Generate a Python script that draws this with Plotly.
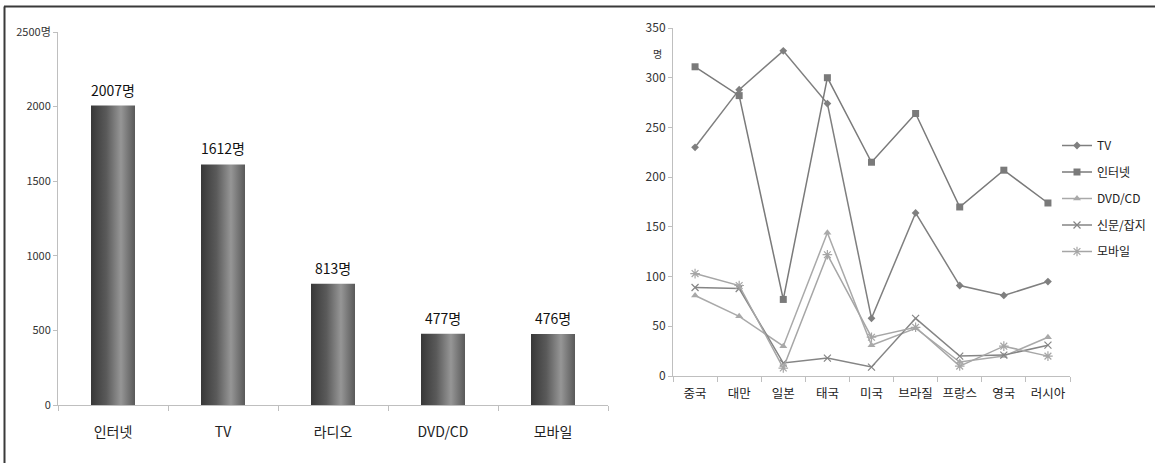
import plotly.graph_objects as go

# ---- data ----
media = ["인터넷", "TV", "라디오", "DVD/CD", "모바일"]
media_counts = [2007, 1612, 813, 477, 476]

countries = ["중국", "대만", "일본", "태국", "미국", "브라질", "프랑스", "영국", "러시아"]
tv = [230, 288, 327, 274, 58, 164, 91, 81, 95]
internet = [311, 282, 77, 300, 215, 264, 170, 207, 174]
dvd_cd = [81, 60, 30, 144, 31, 48, 14, 20, 39]
newspaper = [89, 88, 13, 18, 9, 58, 20, 21, 31]
mobile = [103, 91, 8, 122, 39, 49, 10, 30, 20]

left_yticks = [0, 500, 1000, 1500, 2000, 2500]
left_yticktext = ["0", "500", "1000", "1500", "2000", "2500명"]

W, H = 1155, 463
FONT = "Noto Sans CJK KR"
AXIS_GREY = "#bfbfbf"


def px_x(p):
    return p / W


def px_y(p):
    return 1 - p / H


fig = go.Figure()

# ---- left: bar chart with a cylinder-like horizontal gradient ----
bar_half = 0.2
for i, v in enumerate(media_counts):
    fig.add_trace(go.Scatter(
        x=[i - bar_half, i + bar_half, i + bar_half, i - bar_half, i - bar_half],
        y=[0, 0, v, v, 0],
        fill="toself",
        fillgradient=dict(
            type="horizontal",
            colorscale=[[0, "#383838"], [0.35, "#5a5a5a"], [0.68, "#969696"], [1, "#595959"]],
        ),
        line=dict(width=0),
        mode="lines",
        xaxis="x3", yaxis="y",
        showlegend=False,
        hoverinfo="skip",
    ))

# invisible anchor trace so the category axis knows its categories
fig.add_trace(go.Scatter(
    x=media, y=media_counts, mode="markers",
    marker=dict(opacity=0), xaxis="x", yaxis="y",
    showlegend=False, hoverinfo="skip",
))

# value labels above each bar
for name, v in zip(media, media_counts):
    fig.add_annotation(
        x=name, y=v, xref="x", yref="y",
        text=f"{v}명", showarrow=False,
        yanchor="bottom", yshift=4,
        font=dict(family=FONT, size=14, color="#111"),
    )

# ---- right: line chart by country ----
series = [
    ("TV", tv, "#7f7f7f", dict(symbol="diamond", size=6)),
    ("인터넷", internet, "#7a7a7a", dict(symbol="square", size=7)),
    ("DVD/CD", dvd_cd, "#a9a9a9", dict(symbol="triangle-up", size=7)),
    ("신문/잡지", newspaper, "#858585", dict(symbol="x-thin-open", size=7, line=dict(width=1.2, color="#858585"))),
    ("모바일", mobile, "#a6a6a6", dict(symbol="asterisk-open", size=8, line=dict(width=1.2, color="#a6a6a6"))),
]
for name, vals, color, mk in series:
    mk = dict(mk)
    mk.setdefault("color", color)
    fig.add_trace(go.Scatter(
        x=countries, y=vals,
        mode="lines+markers",
        name=name,
        legendgroup=name,
        line=dict(color=color, width=1.5),
        marker=mk,
        xaxis="x2", yaxis="y2",
    ))

tick_font = dict(family=FONT, size=11, color="#333")

fig.update_layout(
    width=W, height=H,
    margin=dict(l=0, r=0, t=0, b=0, autoexpand=False),
    paper_bgcolor="white",
    plot_bgcolor="white",
    font=dict(family=FONT, color="#222"),
    xaxis=dict(
        domain=[px_x(58), px_x(608)],
        type="category",
        categoryorder="array", categoryarray=media,
        range=[-0.5, len(media) - 0.5],
        tickson="boundaries",
        ticks="outside", ticklen=5, tickcolor=AXIS_GREY,
        showline=True, linecolor=AXIS_GREY, linewidth=1,
        showgrid=False, zeroline=False,
        tickfont=dict(family=FONT, size=14, color="#222"),
        ticklabelstandoff=14,
        tickangle=0,
        automargin=False,
        anchor="y",
    ),
    xaxis3=dict(
        domain=[px_x(58), px_x(608)],
        range=[-0.5, len(media) - 0.5],
        overlaying="x",
        visible=False,
        automargin=False,
        anchor="y",
    ),
    yaxis=dict(
        domain=[px_y(405), px_y(32)],
        range=[0, 2500],
        tickvals=left_yticks, ticktext=left_yticktext,
        ticks="outside", ticklen=4, tickcolor=AXIS_GREY,
        showline=True, linecolor=AXIS_GREY, linewidth=1,
        showgrid=False, zeroline=False,
        tickfont=tick_font,
        automargin=False,
        anchor="x",
    ),
    xaxis2=dict(
        domain=[px_x(673), px_x(1070)],
        type="category",
        categoryorder="array", categoryarray=countries,
        range=[-0.5, len(countries) - 0.5],
        tickson="boundaries",
        ticks="outside", ticklen=5, tickcolor=AXIS_GREY,
        showline=True, linecolor=AXIS_GREY, linewidth=1,
        showgrid=False, zeroline=False,
        tickfont=dict(family=FONT, size=12.5, color="#222"),
        ticklabelstandoff=6,
        tickangle=0,
        automargin=False,
        anchor="y2",
    ),
    yaxis2=dict(
        domain=[px_y(376), px_y(28)],
        range=[0, 350], dtick=50,
        ticks="outside", ticklen=4, tickcolor=AXIS_GREY,
        showline=True, linecolor=AXIS_GREY, linewidth=1,
        showgrid=False, zeroline=False,
        tickfont=dict(family=FONT, size=12, color="#333"),
        automargin=False,
        anchor="x2",
    ),
    legend=dict(
        x=px_x(1057), y=px_y(131),
        xanchor="left", yanchor="top",
        font=dict(family=FONT, size=12, color="#222"),
        bgcolor="rgba(0,0,0,0)",
        tracegroupgap=7.5,
        itemwidth=30,
    ),
    showlegend=True,
)

# unit label under the top tick of the right axis
fig.add_annotation(
    x=px_x(657), y=px_y(44), xref="paper", yref="paper",
    text="명", showarrow=False,
    font=dict(family=FONT, size=10, color="#333"),
)

# outer frame lines (top and left)
fig.add_shape(type="line", xref="paper", yref="paper",
              x0=px_x(4), x1=1, y0=px_y(6.5), y1=px_y(6.5),
              line=dict(color="#3a3a3a", width=2))
fig.add_shape(type="line", xref="paper", yref="paper",
              x0=px_x(4.5), x1=px_x(4.5), y0=px_y(6.5), y1=0,
              line=dict(color="#3a3a3a", width=2))

fig.write_html("out.html")
